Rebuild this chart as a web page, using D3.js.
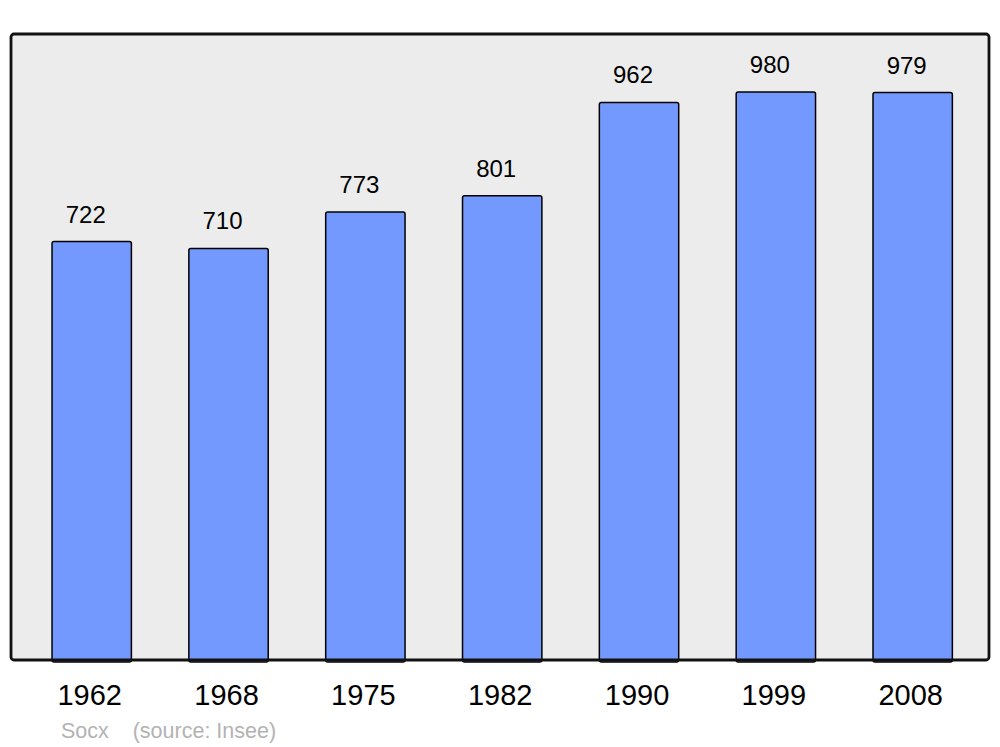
<!DOCTYPE html>
<html>
<head>
<meta charset="utf-8">
<script src="https://cdn.jsdelivr.net/npm/d3@7"></script>
<style>
  body { margin: 0; background: #fff; }
  svg { display: block; font-family: "Liberation Sans", Arial, sans-serif; }
</style>
</head>
<body>
<script>
const w = 1000;
const h = 747;

const years = ["1962", "1968", "1975", "1982", "1990", "1999", "2008"];
const population = [722, 710, 773, 801, 962, 980, 979];
const sourceText = "Socx    (source: Insee)";

const frame = { left: 11, right: 989, top: 34, bottom: 660 };

const svg = d3.select("body")
  .append("svg")
  .attr("width", w)
  .attr("height", h);

// plot background
svg.append("rect")
  .attr("x", frame.left)
  .attr("y", frame.top)
  .attr("width", frame.right - frame.left)
  .attr("height", frame.bottom - frame.top)
  .attr("rx", 3)
  .attr("fill", "#ececec");

const xScale = d3.scaleBand()
  .domain(years)
  .range([23.3, 981.1])
  .paddingInner(0.42)
  .paddingOuter(0.21);

const yScale = d3.scaleLinear()
  .domain([0, 1080])
  .range([frame.bottom, frame.top]);

const data = years.map((y, i) => ({ year: y, value: population[i] }));

svg.selectAll("rect.bar")
  .data(data)
  .enter()
  .append("rect")
  .attr("class", "bar")
  .attr("x", d => xScale(d.year))
  .attr("y", d => yScale(d.value))
  .attr("width", xScale.bandwidth())
  .attr("height", d => yScale(0) - yScale(d.value) + 2)
  .attr("rx", 2)
  .attr("fill", "#7399ff")
  .attr("stroke", "#000")
  .attr("stroke-width", 1.5);

svg.selectAll("text.value")
  .data(data)
  .enter()
  .append("text")
  .attr("class", "value")
  .attr("x", d => xScale(d.year) + xScale.bandwidth() / 2 - 6)
  .attr("y", d => yScale(d.value) - 19)
  .attr("text-anchor", "middle")
  .attr("font-size", 24)
  .attr("fill", "#000")
  .text(d => d.value);

// frame border on top of bars
svg.append("rect")
  .attr("x", frame.left)
  .attr("y", frame.top)
  .attr("width", frame.right - frame.left)
  .attr("height", frame.bottom - frame.top)
  .attr("rx", 3)
  .attr("fill", "none")
  .attr("stroke", "#111")
  .attr("stroke-width", 2.8);

const xAxis = d3.axisBottom(xScale).tickSize(0).tickPadding(0);
const gx = svg.append("g")
  .attr("transform", `translate(-2, ${frame.bottom})`)
  .call(xAxis);
gx.select(".domain").remove();
gx.selectAll("text")
  .attr("dy", null)
  .attr("y", 45)
  .attr("font-size", 29)
  .attr("font-family", "Liberation Sans, Arial, sans-serif")
  .attr("fill", "#000");

svg.append("text")
  .attr("x", 61)
  .attr("y", 738)
  .attr("font-size", 21.5)
  .attr("fill", "#b3b3b3")
  .attr("xml:space", "preserve")
  .style("white-space", "pre")
  .text(sourceText);
</script>
</body>
</html>
